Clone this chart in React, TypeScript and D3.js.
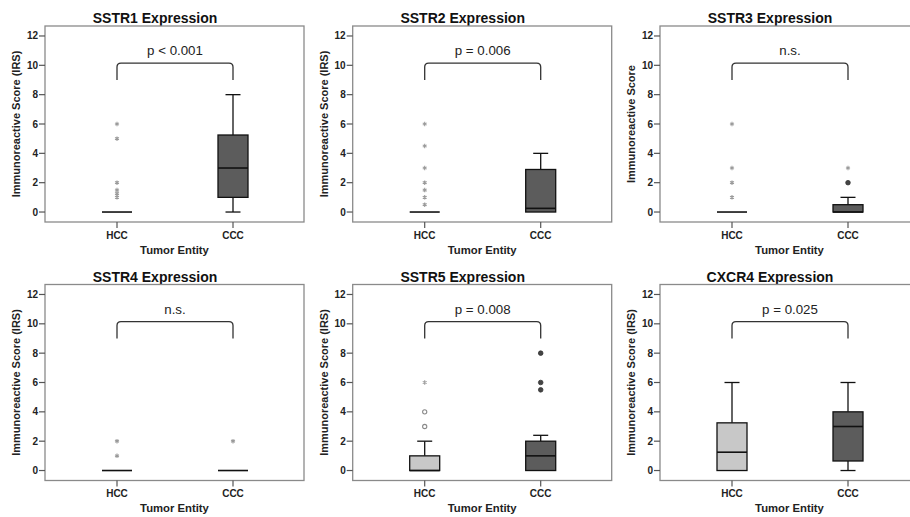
import React from "react";
import * as d3 from "d3";

const titles = ["SSTR1 Expression", "SSTR2 Expression", "SSTR3 Expression", "SSTR4 Expression", "SSTR5 Expression", "CXCR4 Expression"];
const pLabels = ["p < 0.001", "p = 0.006", "n.s.", "n.s.", "p = 0.008", "p = 0.025"];
const yTitles = ["Immunoreactive Score (IRS)", "Immunoreactive Score (IRS)", "Immunoreactive Score", "Immunoreactive Score (IRS)", "Immunoreactive Score (IRS)", "Immunoreactive Score (IRS)"];
const groups = ["HCC", "CCC"];
const yTicks = [0, 2, 4, 6, 8, 10, 12];
// [whiskerLow, q1, median, q3, whiskerHigh]
const hccStats = [[0, 0, 0, 0, 0], [0, 0, 0, 0, 0], [0, 0, 0, 0, 0], [0, 0, 0, 0, 0], [0, 0, 0, 1, 2], [0, 0, 1.25, 3.25, 6]];
const cccStats = [[0, 1, 3, 5.25, 8], [0, 0, 0.25, 2.9, 4], [0, 0, 0, 0.5, 1], [0, 0, 0, 0, 0], [0, 0, 1, 2, 2.4], [0, 0.65, 3, 4, 6]];
// extreme values (asterisks) and outliers (circles)
const hccExtremes = [[6, 5, 2, 1.5, 1.25, 1], [6, 4.5, 3, 2, 1.5, 1, 0.5], [6, 3, 2, 1], [2, 1], [6], []];
const hccOutliers = [[], [], [], [], [4, 3], []];
const cccExtremes = [[], [], [3], [2], [], []];
const cccOutliers = [[], [], [2], [], [8, 6, 5.5], []];

const FONT = "'Liberation Sans', Arial, Helvetica, sans-serif";
const colLefts = [45, 352.7, 660];
const rowTops = [26, 284.5];
const PW = 259;
const PH = 196;
const BOXW = 30;
const boxFill = ["#c8c8c8", "#5c5c5c"];

function Panel({ i }: { i: number }) {
  const left = colLefts[i % 3];
  const top = rowTops[Math.floor(i / 3)];
  const x = d3.scalePoint<string>().domain(groups).range([left + 72, left + 188]);
  const y = d3.scaleLinear().domain([-0.68, 12.68]).range([top + PH, top]);
  const stats = [hccStats[i], cccStats[i]];
  const extremes = [hccExtremes[i], cccExtremes[i]];
  const outliers = [hccOutliers[i], cccOutliers[i]];
  const cx = left + PW / 2;
  const xh = x("HCC")!;
  const xc = x("CCC")!;
  const bt = y(10.15);
  const bl = y(9.0);
  const r = 4;
  const bracket = `M${xh},${bl} L${xh},${bt + r} Q${xh},${bt} ${xh + r},${bt} L${xc - r},${bt} Q${xc},${bt} ${xc},${bt + r} L${xc},${bl}`;
  const ast = d3.symbol().type(d3.symbolAsterisk).size(14)()!;
  return (
    <g>
      <text x={cx - 19.5} y={top - 3} textAnchor="middle" fontFamily={FONT} fontWeight="bold" fontSize={14} fill="#111">{titles[i]}</text>
      <rect x={left} y={top} width={PW} height={PH} fill="none" stroke="#8a8a8a" strokeWidth={1.3} />
      {yTicks.map((t) => (
        <g key={t}>
          <line x1={left - 6} x2={left} y1={y(t)} y2={y(t)} stroke="#555" strokeWidth={1.2} />
          <text x={left - 7} y={y(t)} dy="0.35em" textAnchor="end" fontFamily={FONT} fontWeight="bold" fontSize={10} fill="#222">{t}</text>
        </g>
      ))}
      {groups.map((g) => (
        <g key={g}>
          <line x1={x(g)} x2={x(g)} y1={top + PH} y2={top + PH + 6} stroke="#555" strokeWidth={1.2} />
          <text x={x(g)} y={top + PH + 16.5} textAnchor="middle" fontFamily={FONT} fontWeight="bold" fontSize={10} fill="#222">{g}</text>
        </g>
      ))}
      <text x={cx} y={top + PH + 31.8} textAnchor="middle" fontFamily={FONT} fontWeight="bold" fontSize={11.3} fill="#222">Tumor Entity</text>
      <text transform={`translate(${left - 25},${top + PH / 2}) rotate(-90)`} textAnchor="middle" fontFamily={FONT} fontWeight="bold" fontSize={11} fill="#222">{yTitles[i]}</text>
      <path d={bracket} fill="none" stroke="#333" strokeWidth={1.3} />
      <text x={(xh + xc) / 2} y={bt - 8} textAnchor="middle" fontFamily={FONT} fontSize={13.3} fill="#222">{pLabels[i]}</text>
      {groups.map((g, gi) => {
        const [lo, q1, md, q3, hi] = stats[gi];
        const gx = x(g)!;
        return (
          <g key={g}>
            {hi > q3 && <line x1={gx} x2={gx} y1={y(q3)} y2={y(hi)} stroke="#111" strokeWidth={1.3} />}
            {hi > q3 && <line x1={gx - BOXW / 4} x2={gx + BOXW / 4} y1={y(hi)} y2={y(hi)} stroke="#111" strokeWidth={1.3} />}
            {lo < q1 && <line x1={gx} x2={gx} y1={y(q1)} y2={y(lo)} stroke="#111" strokeWidth={1.3} />}
            {lo < q1 && <line x1={gx - BOXW / 4} x2={gx + BOXW / 4} y1={y(lo)} y2={y(lo)} stroke="#111" strokeWidth={1.3} />}
            <rect x={gx - BOXW / 2} y={y(q3)} width={BOXW} height={Math.max(0, y(q1) - y(q3))} fill={boxFill[gi]} stroke="#111" strokeWidth={1.3} />
            <line x1={gx - BOXW / 2} x2={gx + BOXW / 2} y1={y(md)} y2={y(md)} stroke="#111" strokeWidth={1.6} />
            {extremes[gi].map((v, k) => (
              <path key={"e" + k} d={ast} transform={`translate(${gx},${y(v)})`} fill="none" stroke="#9a9a9a" strokeWidth={1.1} />
            ))}
            {outliers[gi].map((v, k) => (
              gi === 0 ? (
                <circle key={"o" + k} cx={gx} cy={y(v)} r={2.1} fill="none" stroke="#8a8a8a" strokeWidth={1.1} />
              ) : (
                <circle key={"o" + k} cx={gx} cy={y(v)} r={2.3} fill="#444" stroke="#333" strokeWidth={0.8} />
              )
            ))}
          </g>
        );
      })}
    </g>
  );
}

export default function App() {
  return (
    <svg width={910} height={517} style={{ position: "absolute", left: 0, top: 0, background: "#fff" }}>
      <rect width={910} height={517} fill="#fff" />
      {titles.map((_, i) => (
        <Panel key={i} i={i} />
      ))}
    </svg>
  );
}
